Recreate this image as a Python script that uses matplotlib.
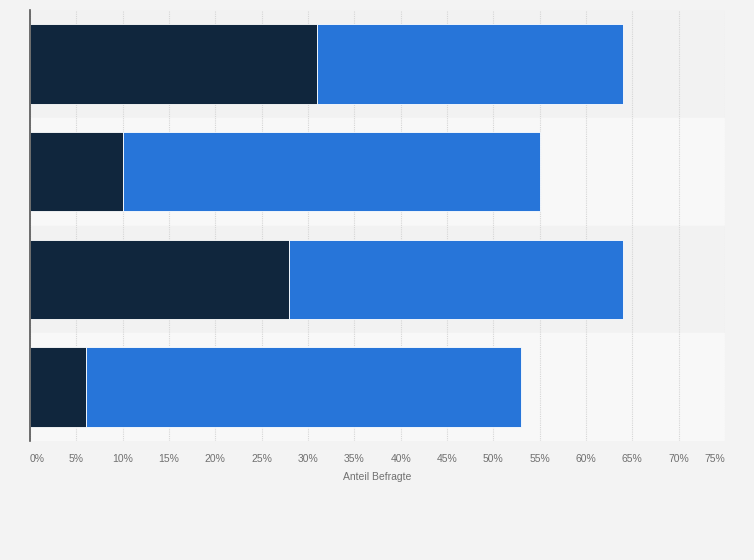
import matplotlib.pyplot as plt

# values in percent, top to bottom
categories = ['A', 'B', 'C', 'D']
part_dark = [31, 10, 28, 6]
part_blue = [33, 45, 36, 47]
ticks = list(range(0, 80, 5))
tick_labels = [f'{t}%' for t in ticks]

plt.rcParams['font.family'] = ['Liberation Sans', 'DejaVu Sans']

fig = plt.figure(figsize=(7.54, 5.6), dpi=100, facecolor='#f3f3f3')
ax = fig.add_axes([30 / 754, 1 - 441 / 560, 695 / 754, 431 / 560])
ax.set_facecolor('#f3f3f3')

y = list(range(len(categories)))
# alternating row bands
for i in y:
    ax.axhspan(i - 0.5, i + 0.5, color='#f2f2f2' if i % 2 == 0 else '#f8f8f8', zorder=0)

ax.barh(y, part_dark, height=0.74, color='#10263d', edgecolor='white', linewidth=0.6, zorder=3)
ax.barh(y, part_blue, left=part_dark, height=0.74, color='#2775d9', edgecolor='white', linewidth=0.6, zorder=3)

ax.set_ylim(len(categories) - 0.5, -0.5)
ax.set_xlim(0, 75)
ax.set_yticks([])
ax.set_xticks(ticks)
ax.set_xticklabels(tick_labels, fontsize=7.5, color='#707070')
labels = ax.get_xticklabels()
labels[0].set_horizontalalignment('left')
labels[-1].set_horizontalalignment('right')
ax.tick_params(axis='x', length=0, pad=9)
ax.grid(axis='x', color='#d6d6d6', linestyle=(0, (1, 1)), linewidth=0.8, zorder=1)
for s in ['top', 'right', 'bottom']:
    ax.spines[s].set_visible(False)
ax.spines['left'].set_color('#555555')
ax.spines['left'].set_linewidth(1.2)
ax.spines['left'].set_zorder(4)
ax.set_xlabel('Anteil Befragte', fontsize=7.5, color='#707070', labelpad=6)

fig.savefig('out.png', dpi=100, facecolor=fig.get_facecolor())
